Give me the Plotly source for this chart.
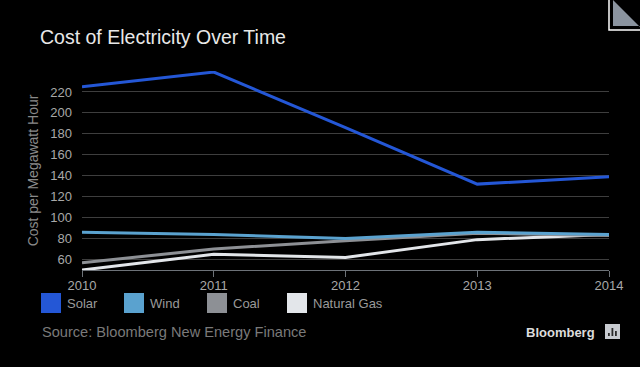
import plotly.graph_objects as go

years = [2010, 2011, 2012, 2013, 2014]
solar = [225, 239, 186, 132, 139]
wind = [86, 84, 80, 86, 84]
coal = [57, 70, 78, 85, 83]
natural_gas = [50, 65, 62, 79, 84]
series_names = ["Solar", "Wind", "Coal", "Natural Gas"]
series_colors = ["#2457d6", "#5aa2cf", "#8d9095", "#e3e6ea"]
y_ticks = [60, 80, 100, 120, 140, 160, 180, 200, 220]

W, H = 640, 367
L, R, T, B = 82, 31, 71, 97
PW, PH = W - L - R, H - T - B

def px(x):
    return (x - L) / PW

def py(y):
    return (H - B - y) / PH

fig = go.Figure()
data = {"Solar": solar, "Wind": wind, "Coal": coal, "Natural Gas": natural_gas}
for name, col in reversed(list(zip(series_names, series_colors))):
    fig.add_trace(go.Scatter(x=years, y=data[name], mode="lines", name=name,
                             line=dict(color=col, width=3), showlegend=False))

shapes = []
annotations = []
legend_x = [41, 124, 207, 287]
for name, col, lx in zip(series_names, series_colors, legend_x):
    shapes.append(dict(type="rect", xref="paper", yref="paper",
                       x0=px(lx), x1=px(lx + 20), y0=py(313), y1=py(293),
                       fillcolor=col, line=dict(width=0), layer="above"))
    annotations.append(dict(xref="paper", yref="paper", x=px(lx + 24), y=py(303),
                            text=name, showarrow=False, xanchor="left", yanchor="middle",
                            font=dict(family="Liberation Sans", size=13, color="#9a9a9a")))

annotations.append(dict(xref="paper", yref="paper", x=px(40), y=py(332),
                        text="Source: Bloomberg New Energy Finance", showarrow=False,
                        xanchor="left", yanchor="middle",
                        font=dict(family="Liberation Sans", size=14.6, color="#7a7a7a")))
annotations.append(dict(xref="paper", yref="paper", x=px(597), y=py(332),
                        text="<b>Bloomberg</b>", showarrow=False,
                        xanchor="right", yanchor="middle",
                        font=dict(family="Liberation Sans", size=13, color="#dcdcdc")))
shapes.append(dict(type="rect", xref="paper", yref="paper",
                   x0=px(605), x1=px(620), y0=py(339), y1=py(324),
                   fillcolor="#c8cbd0", line=dict(width=0)))
for bx, top in [(608, 333), (611.5, 328), (615, 331)]:
    shapes.append(dict(type="rect", xref="paper", yref="paper",
                       x0=px(bx), x1=px(bx + 1.8), y0=py(336), y1=py(top),
                       fillcolor="#2a2a2a", line=dict(width=0)))
shapes.append(dict(type="path", xref="paper", yref="paper",
                   path=f"M {px(609)} {py(0)} L {px(609)} {py(30)} L {px(640)} {py(30)}",
                   line=dict(color="#ffffff", width=1.5)))
shapes.append(dict(type="path", xref="paper", yref="paper",
                   path=f"M {px(613)} {py(0)} L {px(613)} {py(26)} L {px(640)} {py(26)} L {px(640)} {py(27)} Z",
                   fillcolor="#8b949f", line=dict(width=0)))

fig.update_layout(
    width=W, height=H,
    margin=dict(l=L, r=R, t=T, b=B),
    paper_bgcolor="#000000", plot_bgcolor="#000000",
    title=dict(text="Cost of Electricity Over Time", x=40 / W, xanchor="left",
               y=1 - 37 / H, yanchor="middle",
               font=dict(family="Liberation Sans", size=19.5, color="#e8e8e8")),
    shapes=shapes, annotations=annotations,
    xaxis=dict(range=[2010, 2014], tickvals=years, ticktext=[str(y) for y in years],
               showgrid=False, showline=True, linecolor="#6d7278", linewidth=1,
               ticks="outside", ticklen=6, tickcolor="#6d7278",
               ticklabelstandoff=-3,
               tickfont=dict(family="Liberation Sans", size=13, color="#a8a8a8"),
               zeroline=False, fixedrange=True),
    yaxis=dict(range=[50, 240], tickvals=y_ticks, showgrid=True, gridcolor="#3e3e3e",
               gridwidth=1, showline=False, zeroline=False, ticks="",
               ticklabelstandoff=9,
               tickfont=dict(family="Liberation Sans", size=13, color="#a8a8a8"),
               title=dict(text="Cost per Megawatt Hour", standoff=8,
                          font=dict(family="Liberation Sans", size=14, color="#8a8a8a"))),
)

fig.write_html("out.html", config={"displayModeBar": False},
               post_script="document.body.style.margin='0';document.body.style.background='#000';")
